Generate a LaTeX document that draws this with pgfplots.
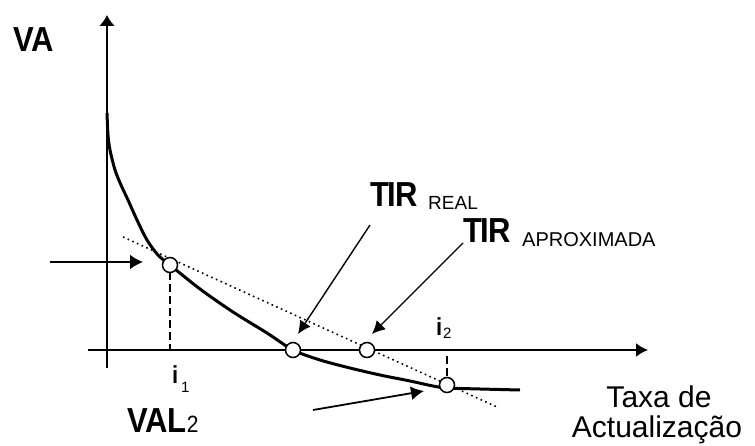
\documentclass[border=0pt]{standalone}
\usepackage{fontspec}
\setmainfont{Liberation Sans}
\usepackage{pgfplots}
\pgfplotsset{compat=1.18}
\usetikzlibrary{arrows.meta}
\newcommand{\fs}[1]{\fontsize{#1}{#1}\selectfont}
\newcommand{\tall}[1]{\scalebox{1}[1.12]{#1}}
\begin{document}
\begin{tikzpicture}
\begin{axis}[
  scale only axis, width=755pt, height=446pt,
  xmin=0, xmax=755, ymin=0, ymax=446, y dir=reverse,
  hide axis, clip=false,
]
  \path (rel axis cs:0,0) rectangle (rel axis cs:1,1);
  % axes
  \addplot[line width=2pt, -{Latex[length=11pt,width=16pt]}] coordinates {(107,368) (107,15)};
  \addplot[line width=2pt, -{Latex[length=12pt,width=14pt]}] coordinates {(88,350) (648,350)};
  % approximation (dotted straight line)
  \addplot[line width=1.6pt, dash pattern=on 1.6pt off 3.5pt] coordinates {(123,237) (497,407)};
  % VA curve
  \addplot[line width=3pt, smooth] coordinates {
    (107,113) (108,135) (110,150) (115,170) (121,185) (128,200) (137,220)
    (147,240) (158,255) (170,265) (200,289) (233,312) (267,333) (293,350)
    (320,360) (350,368) (380,375) (410,381) (433,386) (447,388) (480,389) (520,390)};
  % dashed guides
  \addplot[line width=1.5pt, dash pattern=on 8pt off 4pt] coordinates {(170,272) (170,350)};
  \addplot[line width=1.5pt, dash pattern=on 8pt off 4pt] coordinates {(447,356) (447,377)};
  % annotation arrows
  \addplot[line width=2pt, -{Latex[length=13pt,width=15pt]}] coordinates {(50,262) (143,262)};
  \addplot[line width=1.8pt, -{Latex[length=13pt,width=14pt]}] coordinates {(313,410) (424,391)};
  \addplot[line width=1.4pt, -{Latex[length=13pt,width=13pt]}] coordinates {(370,225) (298,334)};
  \addplot[line width=1.4pt, -{Latex[length=13pt,width=13pt]}] coordinates {(463,243) (372,334)};
  % points
  \addplot[only marks, mark=*, mark size=7.5pt, mark options={fill=white, draw=black, line width=1.5pt}]
    coordinates {(170,265) (293,350) (367,350) (447,385)};
  % texts
  \node[anchor=base west, inner sep=0] at (axis cs:13,52) {\tall{\fs{31}\bfseries VA}};
  \node[anchor=base west, inner sep=0] at (axis cs:127,432) {\tall{\fs{31}\bfseries VAL\fs{21}\mdseries 2}};
  \node[anchor=base west, inner sep=0] at (axis cs:172,383) {\tall{\fs{22}\bfseries i}};
  \node[anchor=base west, inner sep=0] at (axis cs:181,392) {\fs{15}1};
  \node[anchor=base west, inner sep=0] at (axis cs:436,335) {\tall{\fs{22}\bfseries i}};
  \node[anchor=base west, inner sep=0] at (axis cs:443,338) {\fs{15}2};
  \node[anchor=base west, inner sep=0] at (axis cs:370,207) {\tall{\fs{31}\bfseries T\kern-2ptIR}};
  \node[anchor=base west, inner sep=0] at (axis cs:428,210) {\fs{19}REAL};
  \node[anchor=base west, inner sep=0] at (axis cs:463,243) {\tall{\fs{31}\bfseries T\kern-2ptIR}};
  \node[anchor=base west, inner sep=0] at (axis cs:522,247) {\fs{20}APROXIMADA};
  \node[anchor=base, inner sep=0] at (axis cs:659,407) {\fs{30}Taxa de};
  \node[anchor=base, inner sep=0] at (axis cs:657,437) {\fs{30}Actualização};
\end{axis}
\end{tikzpicture}
\end{document}
